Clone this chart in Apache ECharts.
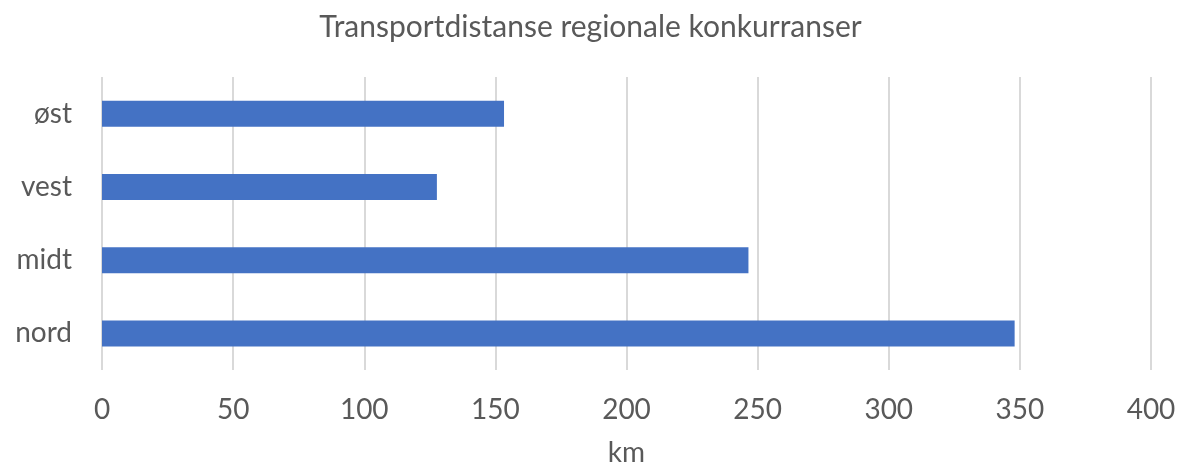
<!DOCTYPE html>
<html lang="en">
<head>
  <meta charset="utf-8">
  <title>Transportdistanse regionale konkurranser</title>
  <script type="text/javascript" src="https://fastly.jsdelivr.net/npm/echarts@6/dist/echarts.min.js"></script>
  <style type="text/css">
    * { margin: 0; padding: 0; }
    html, body, #chart { width: 100%; height: 100%; overflow: hidden; background: #fff; }
  </style>
</head>
<body>
  <div id="chart"></div>
  <script type="text/javascript">
    // regioner, nederst til øverst
    var categories = ['nord', 'midt', 'vest', 'øst'];
    var distances = [348, 246.5, 127.7, 153.3];

    var font = 'Lato, "Open Sans", sans-serif';
    var textColor = '#595959';

    var option = {
      animation: false,
      title: {
        text: 'Transportdistanse regionale konkurranser',
        left: 'center',
        top: 7,
        textStyle: { fontFamily: font, fontSize: 30, fontWeight: 'normal', color: textColor }
      },
      // fast plotområde, ikke krymp for aksenavn
      grid: { left: 102, right: 30, top: 77, bottom: 96, containLabel: false, outerBoundsMode: 'none' },
      xAxis: {
        type: 'value',
        min: 0,
        max: 400,
        interval: 50,
        name: 'km',
        nameLocation: 'middle',
        nameGap: 69,
        nameTextStyle: { fontFamily: font, fontSize: 28, color: textColor },
        axisLine: { show: false },
        axisTick: { show: false },
        axisLabel: { fontFamily: font, fontSize: 28, color: textColor, margin: 26 },
        splitLine: { lineStyle: { color: '#d9d9d9', width: 2 } }
      },
      yAxis: {
        type: 'category',
        data: categories,
        axisLine: { show: false },
        axisTick: { show: false },
        axisLabel: { fontFamily: font, fontSize: 28, color: textColor, margin: 30 }
      },
      series: [{
        type: 'bar',
        data: distances,
        barWidth: 26,
        itemStyle: { color: '#4472c4' }
      }]
    };

    var chart = echarts.init(document.getElementById('chart'));
    chart.setOption(option);
  </script>
</body>
</html>
